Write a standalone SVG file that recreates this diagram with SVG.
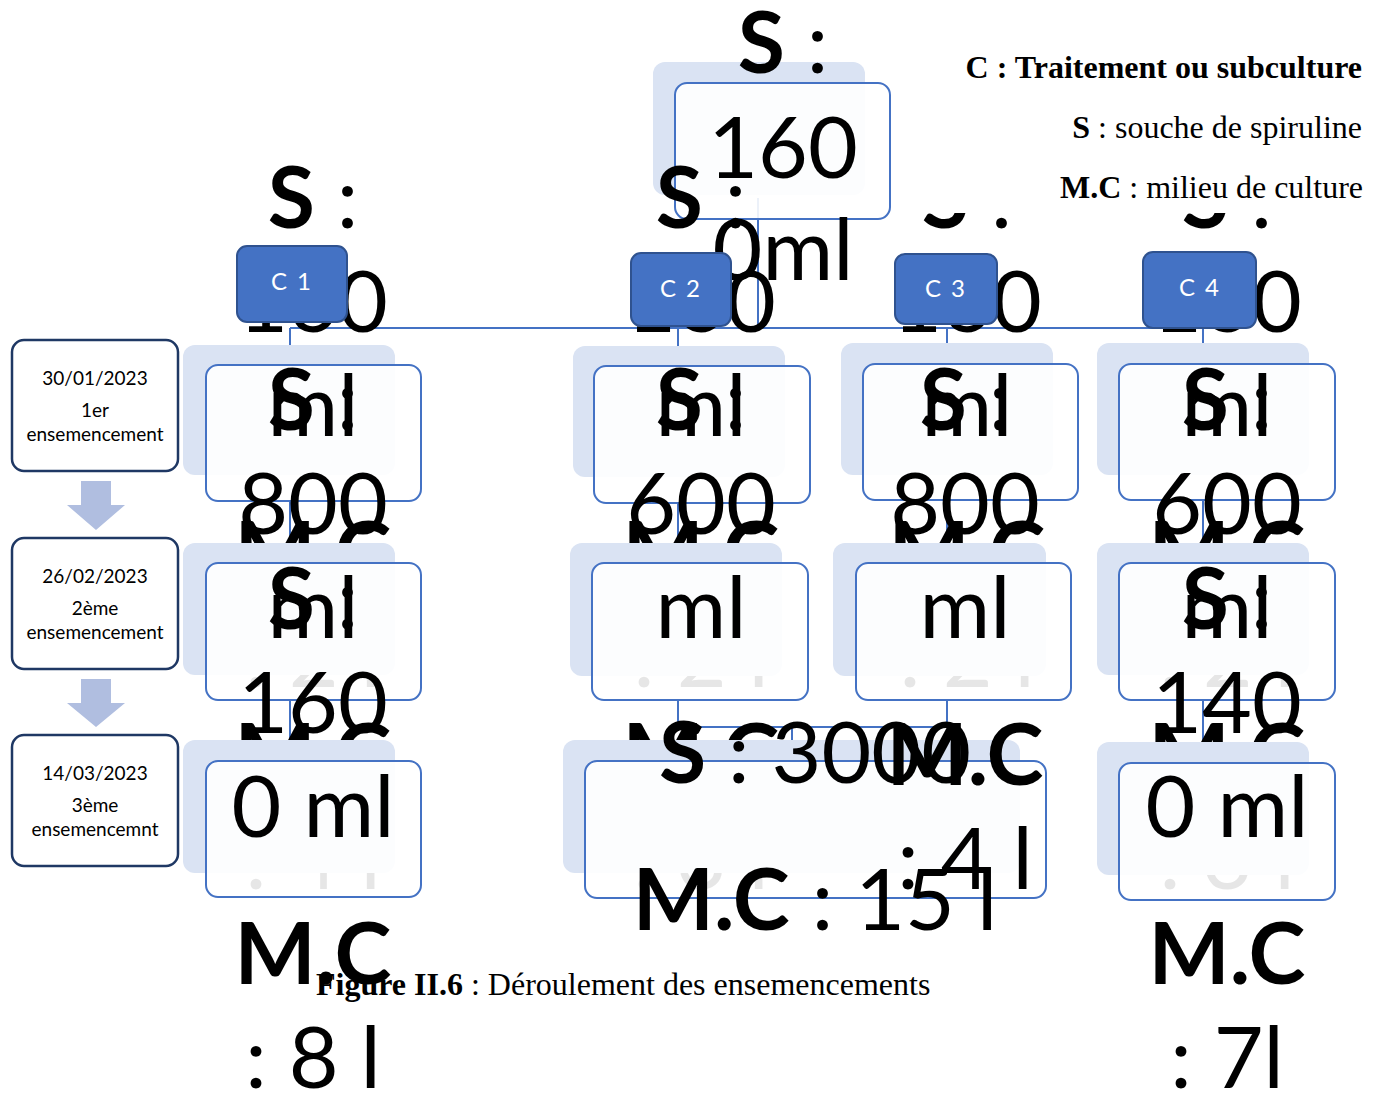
<svg xmlns="http://www.w3.org/2000/svg" width="1381" height="1093" viewBox="0 0 1381 1093">
  <style>
    .shadow { fill: #DAE3F3; }
    .box { fill: #FFFFFF; fill-opacity: 0.9; stroke: #4472C4; stroke-width: 2; }
    .big { font-family: Lato, "Open Sans", sans-serif; font-size: 86px; fill: #000; text-anchor: middle; }
    .b { font-weight: bold; }
    .lbl { fill: #4472C4; stroke: #2F528F; stroke-width: 2; }
    .lbltxt { font-family: Lato, "Open Sans", sans-serif; font-size: 24px; fill: #FFFFFF; text-anchor: middle; letter-spacing: 2px; }
    .conn { fill: none; stroke: #4472C4; stroke-width: 2; }
    .step { fill: #FFFFFF; stroke: #1F3864; stroke-width: 2.5; }
    .steptxt { font-family: Lato, "Open Sans", sans-serif; font-size: 19px; fill: #000; text-anchor: middle; }
    .arrow { fill: #B0BEE0; }
    .serif { font-family: "Liberation Serif", "Times New Roman", serif; font-size: 32px; fill: #000; }
  </style>

  <!-- connectors (drawn beneath all shapes) -->
  <g id="connectors">
    <path class="conn" d="M758 198 V328 M290 328 H1203 M290 328 V365 M678 328 V366 M947 328 V364 M1203 328 V364"/>
    <path class="conn" d="M290 500 V563 M678 502 V563 M947 500 V563 M1203 500 V563"/>
    <path class="conn" d="M290 700 V761 M678 700 V727 H792 V745 M947 700 V727 H792 M1203 700 V763"/>
  </g>

  <!-- root -->
  <g id="root">
    <rect class="shadow" x="653" y="62" width="212" height="133" rx="12"/>
    <rect class="box" x="675" y="83" width="215" height="136" rx="12"/>
    <text class="big" x="783"><tspan x="783" y="73"><tspan class="b">S</tspan> :</tspan><tspan x="783" y="178">160</tspan><tspan x="783" y="280">0ml</tspan></text>
  </g>

  <!-- column 1 -->
  <g id="c1-r1">
    <rect class="shadow" x="183" y="345" width="212" height="130" rx="12"/>
    <rect class="box" x="206" y="365" width="215" height="136" rx="12"/>
    <text class="big"><tspan x="313" y="228"><tspan class="b">S</tspan> :</tspan><tspan x="313" y="332">160</tspan><tspan x="313" y="436">ml</tspan><tspan x="313" y="583" class="b">M.C</tspan><tspan x="313" y="687">: 2 l</tspan></text>
  </g>
  <g id="c1-r2">
    <rect class="shadow" x="183" y="543" width="212" height="132" rx="12"/>
    <rect class="box" x="206" y="563" width="215" height="137" rx="12"/>
    <text class="big"><tspan x="313" y="430"><tspan class="b">S</tspan> :</tspan><tspan x="313" y="534">800</tspan><tspan x="313" y="638">ml</tspan><tspan x="313" y="785" class="b">M.C</tspan><tspan x="313" y="889">: 4 l</tspan></text>
  </g>
  <g id="c1-r3">
    <rect class="shadow" x="183" y="740" width="212" height="133" rx="12"/>
    <rect class="box" x="206" y="761" width="215" height="136" rx="12"/>
    <text class="big"><tspan x="313" y="629"><tspan class="b">S</tspan> :</tspan><tspan x="313" y="733">160</tspan><tspan x="313" y="837">0 ml</tspan><tspan x="313" y="984" class="b">M.C</tspan><tspan x="313" y="1088">: 8 l</tspan></text>
  </g>

  <!-- column 2 -->
  <g id="c2-r1">
    <rect class="shadow" x="573" y="346" width="212" height="131" rx="12"/>
    <rect class="box" x="594" y="366" width="216" height="137" rx="12"/>
    <text class="big"><tspan x="701" y="228"><tspan class="b">S</tspan> :</tspan><tspan x="701" y="332">160</tspan><tspan x="701" y="436">ml</tspan><tspan x="701" y="583" class="b">M.C</tspan><tspan x="701" y="687">: 2 l</tspan></text>
  </g>
  <g id="c2-r2">
    <rect class="shadow" x="570" y="543" width="212" height="133" rx="12"/>
    <rect class="box" x="592" y="563" width="216" height="137" rx="12"/>
    <text class="big"><tspan x="701" y="430"><tspan class="b">S</tspan> :</tspan><tspan x="701" y="534">600</tspan><tspan x="701" y="638">ml</tspan><tspan x="701" y="785" class="b">M.C</tspan><tspan x="701" y="889">: 3 l</tspan></text>
  </g>

  <!-- merged third seeding of columns 2 and 3 -->
  <g id="c23-r3">
    <rect class="shadow" x="563" y="740" width="457" height="133" rx="12"/>
    <rect class="box" x="585" y="761" width="461" height="137" rx="12"/>
    <text class="big"><tspan x="815" y="783"><tspan class="b">S</tspan> : 3000</tspan><tspan x="815" y="930"><tspan class="b">M.C</tspan> : 15 l</tspan></text>
  </g>

  <!-- column 3 -->
  <g id="c3-r1">
    <rect class="shadow" x="841" y="343" width="212" height="132" rx="12"/>
    <rect class="box" x="863" y="364" width="215" height="136" rx="12"/>
    <text class="big"><tspan x="967" y="228"><tspan class="b">S</tspan> :</tspan><tspan x="967" y="332">160</tspan><tspan x="967" y="436">ml</tspan><tspan x="967" y="583" class="b">M.C</tspan><tspan x="967" y="687">: 2 l</tspan></text>
  </g>
  <g id="c3-r2">
    <rect class="shadow" x="833" y="543" width="213" height="133" rx="12"/>
    <rect class="box" x="856" y="563" width="215" height="137" rx="12"/>
    <text class="big"><tspan x="965" y="430"><tspan class="b">S</tspan> :</tspan><tspan x="965" y="534">800</tspan><tspan x="965" y="638">ml</tspan><tspan x="965" y="785" class="b">M.C</tspan><tspan x="965" y="889">: 4 l</tspan></text>
  </g>

  <!-- column 4 -->
  <g id="c4-r1">
    <rect class="shadow" x="1097" y="343" width="212" height="132" rx="12"/>
    <rect class="box" x="1119" y="364" width="216" height="136" rx="12"/>
    <text class="big"><tspan x="1227" y="228"><tspan class="b">S</tspan> :</tspan><tspan x="1227" y="332">160</tspan><tspan x="1227" y="436">ml</tspan><tspan x="1227" y="583" class="b">M.C</tspan><tspan x="1227" y="687">: 2 l</tspan></text>
  </g>
  <g id="c4-r2">
    <rect class="shadow" x="1097" y="543" width="212" height="132" rx="12"/>
    <rect class="box" x="1119" y="563" width="216" height="137" rx="12"/>
    <text class="big"><tspan x="1227" y="430"><tspan class="b">S</tspan> :</tspan><tspan x="1227" y="534">600</tspan><tspan x="1227" y="638">ml</tspan><tspan x="1227" y="785" class="b">M.C</tspan><tspan x="1227" y="889">: 3 l</tspan></text>
  </g>
  <g id="c4-r3">
    <rect class="shadow" x="1097" y="742" width="212" height="133" rx="12"/>
    <rect class="box" x="1119" y="763" width="216" height="137" rx="12"/>
    <text class="big"><tspan x="1227" y="629"><tspan class="b">S</tspan> :</tspan><tspan x="1227" y="733">140</tspan><tspan x="1227" y="837">0 ml</tspan><tspan x="1227" y="984" class="b">M.C</tspan><tspan x="1227" y="1088">: 7l</tspan></text>
  </g>

  <!-- legend -->
  <g id="legend">
    <rect x="900" y="20" width="481" height="193" fill="#FFFFFF"/>
    <text class="serif" x="1362" y="78" text-anchor="end" font-weight="bold">C : Traitement ou subculture</text>
    <text class="serif" x="1362" y="138" text-anchor="end"><tspan font-weight="bold">S</tspan> : souche de spiruline</text>
    <text class="serif" x="1363" y="198" text-anchor="end"><tspan font-weight="bold">M.C</tspan> : milieu de culture</text>
  </g>

  <!-- treatment labels -->
  <g id="label-c1">
    <rect class="lbl" x="237" y="246" width="110" height="76" rx="10"/>
    <text class="lbltxt" x="292" y="290">C 1</text>
  </g>
  <g id="label-c2">
    <rect class="lbl" x="631" y="253" width="100" height="73" rx="10"/>
    <text class="lbltxt" x="681" y="297">C 2</text>
  </g>
  <g id="label-c3">
    <rect class="lbl" x="895" y="254" width="102" height="70" rx="10"/>
    <text class="lbltxt" x="946" y="297">C 3</text>
  </g>
  <g id="label-c4">
    <rect class="lbl" x="1143" y="252" width="113" height="76" rx="10"/>
    <text class="lbltxt" x="1200" y="296">C 4</text>
  </g>

  <!-- seeding timeline -->
  <g id="step1">
    <rect class="step" x="12" y="340" width="166" height="131" rx="12"/>
    <text class="steptxt"><tspan x="95" y="385">30/01/2023</tspan><tspan x="95" y="417">1er</tspan><tspan x="95" y="441">ensemencement</tspan></text>
  </g>
  <g id="step2">
    <rect class="step" x="12" y="538" width="166" height="131" rx="12"/>
    <text class="steptxt"><tspan x="95" y="583">26/02/2023</tspan><tspan x="95" y="615">2ème</tspan><tspan x="95" y="639">ensemencement</tspan></text>
  </g>
  <g id="step3">
    <rect class="step" x="12" y="735" width="166" height="131" rx="12"/>
    <text class="steptxt"><tspan x="95" y="780">14/03/2023</tspan><tspan x="95" y="812">3ème</tspan><tspan x="95" y="836">ensemencemnt</tspan></text>
  </g>
  <g id="timeline-arrows">
    <polygon class="arrow" points="81,481 111,481 111,505 125,505 96,530 67,505 81,505"/>
    <polygon class="arrow" points="81,679 111,679 111,703 125,703 96,727 67,703 81,703"/>
  </g>

  <!-- caption -->
  <text class="serif" x="316" y="995" font-size="33"><tspan font-weight="bold">Figure II.6</tspan> : Déroulement des ensemencements</text>
</svg>
